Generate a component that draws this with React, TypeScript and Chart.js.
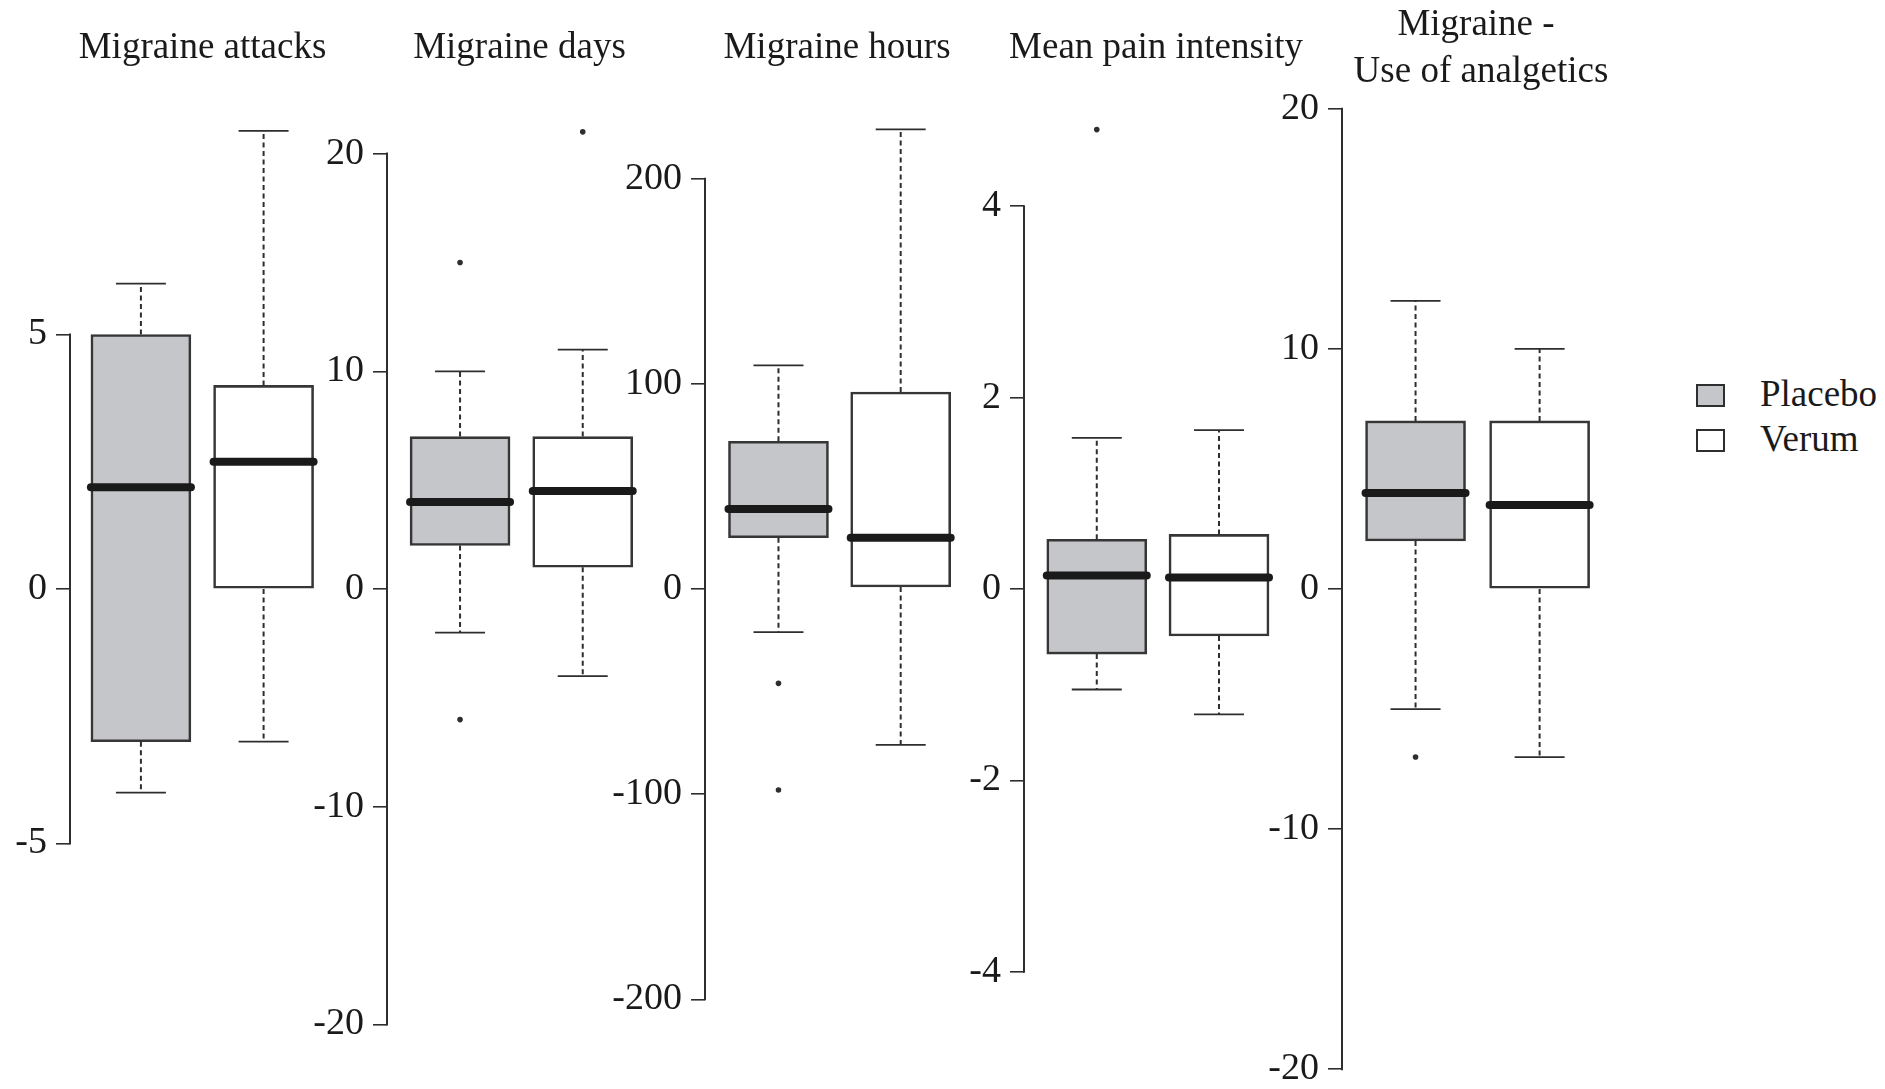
import React, { useEffect, useRef } from 'react';
import { Chart, registerables } from 'chart.js';

Chart.register(...registerables);

// ---------------- data ----------------
const groups = ['Placebo', 'Verum'];

// five-number summaries: [lower whisker, Q1, median, Q3, upper whisker]
const attacksPlacebo = [-4, -3, 2, 5, 6];
const attacksVerum = [-3, 0, 2.5, 4, 9];
const attacksOutliersPlacebo: number[] = [];
const attacksOutliersVerum: number[] = [];
const attacksTicks = [-5, 0, 5];

const daysPlacebo = [-2, 2, 4, 7, 10];
const daysVerum = [-4, 1, 4.5, 7, 11];
const daysOutliersPlacebo = [15, -6];
const daysOutliersVerum = [21];
const daysTicks = [-20, -10, 0, 10, 20];

const hoursPlacebo = [-21, 25, 39, 72, 109];
const hoursVerum = [-76, 1, 25, 96, 224];
const hoursOutliersPlacebo = [-46, -98];
const hoursOutliersVerum: number[] = [];
const hoursTicks = [-200, -100, 0, 100, 200];

const painPlacebo = [-1.05, -0.68, 0.14, 0.52, 1.58];
const painVerum = [-1.31, -0.49, 0.12, 0.57, 1.66];
const painOutliersPlacebo = [4.8];
const painOutliersVerum: number[] = [];
const painTicks = [-4, -2, 0, 2, 4];

const analgeticsPlacebo = [-5, 2, 4, 7, 12];
const analgeticsVerum = [-7, 0, 3.5, 7, 10];
const analgeticsOutliersPlacebo = [-7];
const analgeticsOutliersVerum: number[] = [];
const analgeticsTicks = [-20, -10, 0, 10, 20];

const titles = [
  ['Migraine attacks'],
  ['Migraine days'],
  ['Migraine hours'],
  ['Mean pain intensity'],
  ['Migraine -', 'Use of analgetics'],
];

// ---------------- styling / layout ----------------
const PAGE_W = 1885;
const PAGE_H = 1089;
const ZERO_Y = 589;
const AREA_TOP = 40;
const AREA_BOTTOM = 1049;
const AXW = 110;
const PR = 70;
const BOX_W = 100;
const PLACEBO_FILL = '#c5c6ca';
const VERUM_FILL = '#ffffff';
const INK = '#2e2e2e';
const TEXT = '#1a1a1a';
const FONT = '"Liberation Serif", "Times New Roman", serif';

const panelLayout = [
  { axisX: 70, firstCenter: 140.8, spacing: 122.5, unitPx: 50.9, titleBaselines: [58], titleDx: [0] },
  { axisX: 386.7, firstCenter: 459.7, spacing: 122.6, unitPx: 21.77, titleBaselines: [58], titleDx: [0] },
  { axisX: 705.3, firstCenter: 778.7, spacing: 122.1, unitPx: 2.0515, titleBaselines: [58], titleDx: [0] },
  { axisX: 1024, firstCenter: 1096.7, spacing: 122.1, unitPx: 95.71, titleBaselines: [58], titleDx: [0] },
  { axisX: 1341.7, firstCenter: 1415.2, spacing: 124, unitPx: 24.01, titleBaselines: [34.5, 81.5], titleDx: [0, 5] },
];

const panelData = [
  { stats: [attacksPlacebo, attacksVerum], outliers: [attacksOutliersPlacebo, attacksOutliersVerum], ticks: attacksTicks },
  { stats: [daysPlacebo, daysVerum], outliers: [daysOutliersPlacebo, daysOutliersVerum], ticks: daysTicks },
  { stats: [hoursPlacebo, hoursVerum], outliers: [hoursOutliersPlacebo, hoursOutliersVerum], ticks: hoursTicks },
  { stats: [painPlacebo, painVerum], outliers: [painOutliersPlacebo, painOutliersVerum], ticks: painTicks },
  { stats: [analgeticsPlacebo, analgeticsVerum], outliers: [analgeticsOutliersPlacebo, analgeticsOutliersVerum], ticks: analgeticsTicks },
];

function Panel({ index }: { index: number }) {
  const ref = useRef<HTMLCanvasElement>(null);
  const lay = panelLayout[index];
  const d = panelData[index];
  const plotW = 2.16 * lay.spacing;
  const canvasW = Math.round(AXW + plotW + PR);

  useEffect(() => {
    if (!ref.current) return;
    const xMin = 1 - (lay.firstCenter - lay.axisX) / lay.spacing;
    const xMax = xMin + plotW / lay.spacing;
    const yMax = (ZERO_Y - AREA_TOP) / lay.unitPx;
    const yMin = -(AREA_BOTTOM - ZERO_Y) / lay.unitPx;

    const boxData = groups.map((g, i) => ({ x: i + 1, y: [d.stats[i][1], d.stats[i][3]] }));
    const outlierData = groups.flatMap((g, i) => d.outliers[i].map((v) => ({ x: i + 1, y: v })));

    const extras = {
      id: 'boxExtras' + index,
      afterDatasetsDraw(chart: any) {
        const { ctx, chartArea } = chart;
        const xs = chart.scales.x;
        const ys = chart.scales.y;
        ctx.save();
        groups.forEach((g, i) => {
          const s = d.stats[i];
          const cx = xs.getPixelForValue(i + 1);
          // dashed whiskers
          ctx.strokeStyle = INK;
          ctx.lineWidth = 2;
          ctx.lineCap = 'butt';
          ctx.setLineDash([5, 3.5]);
          ctx.beginPath();
          ctx.moveTo(cx, ys.getPixelForValue(s[3]));
          ctx.lineTo(cx, ys.getPixelForValue(s[4]));
          ctx.moveTo(cx, ys.getPixelForValue(s[1]));
          ctx.lineTo(cx, ys.getPixelForValue(s[0]));
          ctx.stroke();
          ctx.setLineDash([]);
          // staples
          ctx.lineWidth = 1.8;
          ctx.beginPath();
          [s[0], s[4]].forEach((v) => {
            const py = ys.getPixelForValue(v);
            ctx.moveTo(cx - BOX_W / 4, py);
            ctx.lineTo(cx + BOX_W / 4, py);
          });
          ctx.stroke();
          // median
          ctx.strokeStyle = TEXT;
          ctx.lineWidth = 8;
          ctx.lineCap = 'round';
          ctx.beginPath();
          const my = ys.getPixelForValue(s[2]);
          ctx.moveTo(cx - BOX_W / 2, my);
          ctx.lineTo(cx + BOX_W / 2, my);
          ctx.stroke();
        });
        // axis line between first and last tick
        ctx.strokeStyle = INK;
        ctx.lineWidth = 2;
        ctx.lineCap = 'butt';
        ctx.beginPath();
        ctx.moveTo(ys.right, ys.getPixelForValue(d.ticks[0]) + 1);
        ctx.lineTo(ys.right, ys.getPixelForValue(d.ticks[d.ticks.length - 1]) - 1);
        ctx.stroke();
        // panel title
        ctx.font = `37px ${FONT}`;
        ctx.fillStyle = TEXT;
        ctx.textAlign = 'center';
        ctx.textBaseline = 'alphabetic';
        const tx = (chartArea.left + chartArea.right) / 2;
        titles[index].forEach((line, k) => ctx.fillText(line, tx + lay.titleDx[k], lay.titleBaselines[k]));
        ctx.restore();
      },
    };

    const chart = new Chart(ref.current, {
      type: 'bar',
      data: {
        datasets: [
          {
            type: 'bar',
            label: 'box',
            data: boxData as any,
            backgroundColor: [PLACEBO_FILL, VERUM_FILL],
            borderColor: '#363636',
            borderWidth: 2.6,
            borderSkipped: false,
            barThickness: BOX_W,
          } as any,
          {
            type: 'scatter',
            label: 'outliers',
            data: outlierData as any,
            pointRadius: 2.8,
            pointBackgroundColor: INK,
            pointBorderWidth: 0,
            showLine: false,
          } as any,
        ],
      },
      options: {
        animation: false,
        responsive: false,
        events: [],
        layout: { padding: { top: AREA_TOP, bottom: PAGE_H - AREA_BOTTOM, left: 0, right: PR } },
        plugins: { legend: { display: false }, tooltip: { enabled: false }, title: { display: false } },
        scales: {
          x: { type: 'linear', display: false, min: xMin, max: xMax, offset: false },
          y: {
            type: 'linear',
            position: 'left',
            min: yMin,
            max: yMax,
            bounds: 'data',
            border: { display: false },
            grid: { drawOnChartArea: false, drawTicks: true, tickLength: 14, color: INK, lineWidth: 1.6 },
            ticks: {
              padding: 9,
              autoSkip: false,
              color: TEXT,
              font: { family: FONT, size: 38 },
              callback: (v: any) => String(v),
            },
            afterBuildTicks: (scale: any) => {
              scale.ticks = d.ticks.map((v) => ({ value: v }));
            },
            afterFit: (scale: any) => {
              scale.width = AXW;
            },
          } as any,
        },
      } as any,
      plugins: [extras],
    });
    return () => chart.destroy();
  }, [index]);

  return (
    <canvas
      ref={ref}
      width={canvasW}
      height={PAGE_H}
      style={{ position: 'absolute', left: lay.axisX - AXW, top: 0, width: canvasW, height: PAGE_H }}
    />
  );
}

function Legend() {
  const items = [
    { label: groups[0], fill: PLACEBO_FILL, top: 383.5 },
    { label: groups[1], fill: VERUM_FILL, top: 428.5 },
  ];
  return (
    <>
      {items.map((it) => (
        <React.Fragment key={it.label}>
          <div
            style={{
              position: 'absolute',
              left: 1696,
              top: it.top,
              width: 29,
              height: 23,
              boxSizing: 'border-box',
              border: `2px solid ${INK}`,
              background: it.fill,
            }}
          />
          <div
            style={{
              position: 'absolute',
              left: 1760,
              top: it.top - 10,
              height: 40,
              lineHeight: '40px',
              fontFamily: FONT,
              fontSize: 37,
              color: TEXT,
              whiteSpace: 'nowrap',
            }}
          >
            {it.label}
          </div>
        </React.Fragment>
      ))}
    </>
  );
}

export default function App() {
  return (
    <div
      style={{
        position: 'fixed',
        left: 0,
        top: 0,
        width: PAGE_W,
        height: PAGE_H,
        background: '#ffffff',
        overflow: 'hidden',
      }}
    >
      {panelLayout.map((p, i) => (
        <Panel key={i} index={i} />
      ))}
      <Legend />
    </div>
  );
}
